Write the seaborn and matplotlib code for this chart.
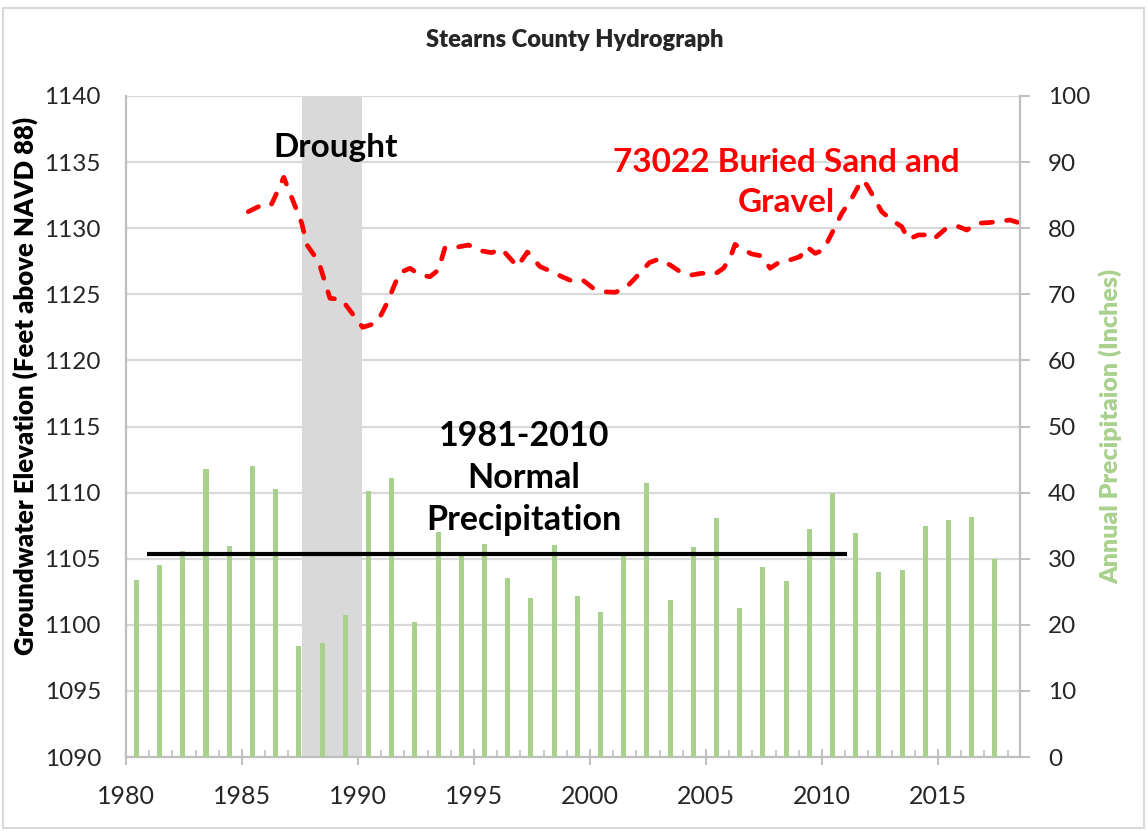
import numpy as np
import pandas as pd
import matplotlib
matplotlib.use("Agg")
import matplotlib.pyplot as plt
from matplotlib.patches import Rectangle
from matplotlib.ticker import MultipleLocator
import seaborn as sns

# Annual precipitation (inches), one bar per year
years = list(range(1980, 2018))
precip = [26.8, 29.0, 31.2, 43.6, 31.9, 44.0, 40.5, 16.8, 17.2, 21.5,
          40.2, 42.2, 20.4, 34.1, 30.5, 32.2, 27.1, 24.0, 32.0, 24.4,
          21.9, 30.5, 41.4, 23.8, 31.7, 36.2, 22.5, 28.7, 26.7, 34.5,
          39.9, 33.9, 28.0, 28.3, 34.9, 35.9, 36.3, 30.0]
bar_offset = 0.45

# Well 73022 groundwater elevation (ft above NAVD 88)
well_dates = [1985.27, 1986.06, 1986.28, 1986.80, 1987.57, 1987.80, 1988.15,
              1988.36, 1988.79, 1989.30, 1990.20, 1990.73, 1990.95, 1991.24,
              1991.60, 1991.81, 1992.24, 1992.67, 1993.10, 1993.46, 1993.75,
              1994.25, 1994.76, 1995.26, 1995.76, 1996.19, 1996.87, 1997.30,
              1997.84, 1998.35, 1998.78, 1999.28, 1999.71, 2000.14, 2000.57,
              2001.08, 2001.51, 2001.87, 2002.56, 2002.94, 2003.45, 2003.88,
              2004.38, 2004.81, 2005.39, 2005.75, 2006.03, 2006.25, 2006.47,
              2006.97, 2007.40, 2007.76, 2008.19, 2008.62, 2009.05, 2009.34,
              2009.70, 2010.06, 2010.85, 2011.28, 2011.71, 2011.93, 2012.57,
              2013.00, 2013.43, 2013.72, 2014.15, 2014.51, 2014.80, 2015.30,
              2015.81, 2016.24, 2016.67, 2017.17, 2017.60, 2018.10, 2018.46]
well_elev = [1131.25, 1131.94, 1131.83, 1133.85, 1130.40, 1128.73, 1127.85,
             1127.14, 1124.70, 1124.60, 1122.50, 1122.80, 1123.30, 1124.30,
             1125.83, 1126.64, 1126.97, 1126.46, 1126.33, 1126.84, 1128.53,
             1128.56, 1128.73, 1128.30, 1128.15, 1128.43, 1127.10, 1128.20,
             1127.10, 1126.71, 1126.34, 1125.96, 1126.04, 1125.45, 1125.20,
             1125.15, 1125.45, 1126.08, 1127.40, 1127.65, 1127.22, 1126.71,
             1126.46, 1126.59, 1126.54, 1126.97, 1127.72, 1128.78, 1128.48,
             1128.05, 1127.90, 1126.97, 1127.47, 1127.60, 1127.85, 1128.60,
             1128.10, 1128.35, 1131.13, 1132.26, 1133.65, 1133.27, 1131.25,
             1130.62, 1130.12, 1129.16, 1129.49, 1129.49, 1129.16, 1129.92,
             1130.17, 1129.86, 1130.37, 1130.42, 1130.50, 1130.62, 1130.42]

normal_precip = 30.7
normal_span = (1980.92, 2011.06)
drought_span = (1987.57, 1990.16)

GREEN = "#A9D18E"
GRID = "#D9D9D9"
SPINE = "#BFBFBF"

sns.set_theme(style="white")
plt.rcParams["font.family"] = ["Lato", "DejaVu Sans"]

fig = plt.figure(figsize=(11.48, 8.33), dpi=100)
ax = fig.add_axes([126 / 1148, 1 - 757 / 833, 894 / 1148, 661 / 833])
ax2 = ax.twinx()

# Elevation axis (left)
ax.set_xlim(1980, 2018.53)
ax.set_ylim(1090, 1140)
ax.yaxis.set_major_locator(MultipleLocator(5))
ax.xaxis.set_major_locator(MultipleLocator(5))
ax.xaxis.set_minor_locator(MultipleLocator(1))
ax.set_axisbelow(True)
ax.grid(axis="y", color=GRID, linewidth=1.6)
ax.grid(axis="x", visible=False)

ax.axvspan(*drought_span, color="#D9D9D9", linewidth=0, zorder=1)

well_df = pd.DataFrame({"date": well_dates, "elev": well_elev})
sns.lineplot(data=well_df, x="date", y="elev", ax=ax, color="#FF0000",
             linewidth=3.4, dashes=False, zorder=5, sort=False)
ln = ax.lines[-1]
ln.set_dashes((2.4, 3.0))
ln.set_dash_capstyle("round")
ln.set_solid_joinstyle("round")

# Precipitation axis (right)
precip_df = pd.DataFrame({"x": [y + bar_offset for y in years], "p": precip})
sns.barplot(data=precip_df, x="x", y="p", ax=ax2, native_scale=True,
            color=GREEN, saturation=1, width=0.22, linewidth=0, zorder=3)
ax2.set_xlim(1980, 2018.53)
ax2.set_ylim(0, 100)
ax2.yaxis.set_major_locator(MultipleLocator(10))
ax2.grid(False)
ax2.plot(normal_span, [normal_precip, normal_precip], color="black",
         linewidth=3, zorder=6, solid_capstyle="butt")

# Axis styling
for a in (ax, ax2):
    a.spines["top"].set_visible(False)
    for side in ("left", "right", "bottom"):
        a.spines[side].set_color(SPINE)
        a.spines[side].set_linewidth(1.6)
ax2.spines["left"].set_visible(False)
ax2.spines["bottom"].set_visible(False)
ax.spines["right"].set_visible(False)

ax.tick_params(axis="x", which="major", direction="inout", length=12,
               width=1.4, color=SPINE, labelsize=18, pad=14, bottom=True)
ax.tick_params(axis="x", which="minor", direction="in", length=5,
               width=1.2, color=SPINE, bottom=True)
ax.tick_params(axis="y", which="major", length=0, labelsize=17.5, pad=18,
               left=True)
ax2.tick_params(axis="y", which="major", direction="out", length=7,
                width=1.4, color=SPINE, labelsize=17.5, pad=13, right=True)
ax2.tick_params(axis="x", which="both", bottom=False, labelbottom=False)

ax.set_xlabel("")
ax.set_ylabel("")
ax2.set_xlabel("")
ax2.set_ylabel("")

# Axis titles
fig.text(25 / 1148, 1 - 386 / 833,
         "Groundwater Elevation (Feet above NAVD 88)", fontsize=18.5,
         fontweight="heavy", rotation=90, ha="center", va="center",
         color="black")
fig.text(1110 / 1148, 1 - 426 / 833, "Annual Precipitaion (Inches)",
         fontsize=18, fontweight="heavy", rotation=90, ha="center",
         va="center", color=GREEN)

# Annotations
ax.text(1989.05, 1136.1, "Drought", fontsize=24, fontweight="bold",
        ha="center", va="center", color="black", zorder=7)
ax.text(2008.45, 1133.45, "73022 Buried Sand and\nGravel", fontsize=24,
        fontweight="bold", ha="center", va="center", color="#FF0000",
        linespacing=1.45, zorder=7)
ax.text(1997.15, 1111.1, "1981-2010\nNormal\nPrecipitation", fontsize=24.5,
        fontweight="bold", ha="center", va="center", color="black",
        linespacing=1.4, zorder=7)

fig.text(575 / 1148, 1 - 40 / 833, "Stearns County Hydrograph", fontsize=17,
         fontweight="heavy", ha="center", va="center")

# Chart border
fig.patches.append(Rectangle((3 / 1148, 5 / 833), 1141 / 1148, 820 / 833,
                             transform=fig.transFigure, fill=False,
                             edgecolor="#D9D9D9", linewidth=1.5))

fig.savefig("out.png", dpi=100)
